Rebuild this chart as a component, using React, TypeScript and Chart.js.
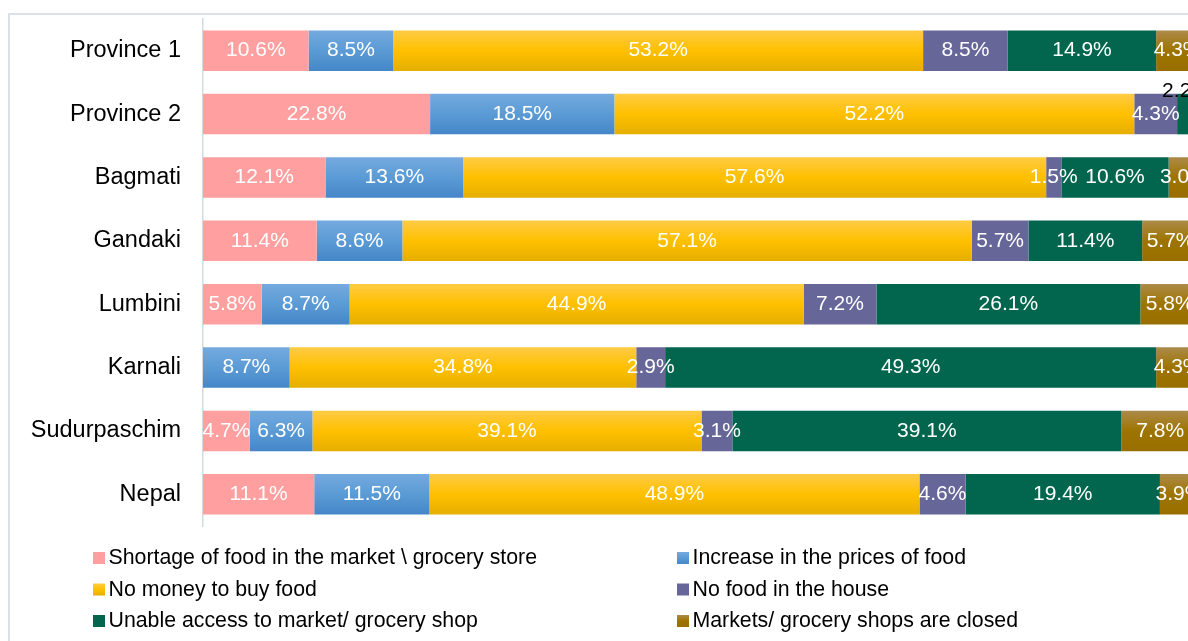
import React, { useEffect, useRef } from "react";
import { Chart, registerables } from "chart.js";

Chart.register(...registerables);

const categories = ["Province 1", "Province 2", "Bagmati", "Gandaki", "Lumbini", "Karnali", "Sudurpaschim", "Nepal"];

const shortage = [10.6, 22.8, 12.1, 11.4, 5.8, 0, 4.7, 11.1];
const priceIncrease = [8.5, 18.5, 13.6, 8.6, 8.7, 8.7, 6.3, 11.5];
const noMoney = [53.2, 52.2, 57.6, 57.1, 44.9, 34.8, 39.1, 48.9];
const noFood = [8.5, 4.3, 1.5, 5.7, 7.2, 2.9, 3.1, 4.6];
const unableAccess = [14.9, 2.2, 10.6, 11.4, 26.1, 49.3, 39.1, 19.4];
const marketsClosed = [4.3, 0, 3.0, 5.7, 5.8, 4.3, 7.8, 3.9];

const seriesLabels = [
  "Shortage of food in the market \\ grocery store",
  "Increase in the prices of food",
  "No money to buy food",
  "No food in the house",
  "Unable access to market/ grocery shop",
  "Markets/ grocery shops are closed",
];

const seriesValues = [shortage, priceIncrease, noMoney, noFood, unableAccess, marketsClosed];

const seriesColors: string[][] = [
  ["#FF9F9F"],
  ["#74AADF", "#5B9BD5", "#4486C8"],
  ["#FFCB45", "#FFC000", "#E5AF00"],
  ["#666699"],
  ["#02664F"],
  ["#AC8A4A", "#9E7400", "#986E00"],
];

const FONT = "'Liberation Sans', Arial, Helvetica, sans-serif";
const BAR_PCT = 0.64;

// 100% stacked: each row normalised to its total, as the chart type does
const rowTotals = categories.map((_, i) => seriesValues.reduce((s, arr) => s + arr[i], 0));

function gradientFill(stops: string[]) {
  return (ctx: any) => {
    if (stops.length === 1) return stops[0];
    const chart = ctx.chart;
    const y = chart.scales && chart.scales.y;
    if (!y || ctx.dataIndex === undefined || !chart.chartArea) return stops[1];
    const c = y.getPixelForValue(ctx.dataIndex);
    const half = ((y.height / categories.length) * BAR_PCT) / 2;
    const g = chart.ctx.createLinearGradient(0, c - half, 0, c + half);
    stops.forEach((s, i) => g.addColorStop(i / (stops.length - 1), s));
    return g;
  };
}

function isLastVisible(di: number, i: number) {
  for (let k = di + 1; k < seriesValues.length; k++) {
    if (seriesValues[k][i] > 0) return false;
  }
  return true;
}

const labelPlugin = {
  id: "segLabels",
  afterDatasetsDraw(chart: any) {
    const ctx = chart.ctx;
    ctx.save();
    ctx.font = `21px ${FONT}`;
    ctx.textAlign = "center";
    ctx.textBaseline = "middle";
    chart.data.datasets.forEach((_: any, di: number) => {
      const meta = chart.getDatasetMeta(di);
      meta.data.forEach((bar: any, i: number) => {
        const v = seriesValues[di][i];
        if (!v) return;
        const p = bar.getProps(["x", "y", "base", "height"], true);
        const w = p.x - p.base;
        const text = v.toFixed(1) + "%";
        const cx = (p.x + p.base) / 2;
        if (w < 25 && isLastVisible(di, i)) {
          ctx.fillStyle = "#000000";
          ctx.textBaseline = "alphabetic";
          ctx.fillText(text, cx - 2, p.y - p.height / 2 + 3);
          ctx.textBaseline = "middle";
        } else {
          ctx.fillStyle = "#FFFFFF";
          ctx.fillText(text, cx, p.y);
        }
      });
    });
    ctx.restore();
  },
};

const legendPlugin = {
  id: "gridLegend",
  afterDraw(chart: any) {
    const ctx = chart.ctx;
    ctx.save();
    ctx.font = `21.3px ${FONT}`;
    ctx.textBaseline = "middle";
    ctx.textAlign = "left";
    const colX = [93, 677];
    const rowY = [558, 589.5, 621];
    seriesLabels.forEach((label, i) => {
      const col = i % 2;
      const row = Math.floor(i / 2);
      const x = colX[col];
      const y = rowY[row];
      const stops = seriesColors[i];
      let fill: any = stops[0];
      if (stops.length > 1) {
        const g = ctx.createLinearGradient(0, y - 6, 0, y + 6);
        stops.forEach((s, k) => g.addColorStop(k / (stops.length - 1), s));
        fill = g;
      }
      ctx.fillStyle = fill;
      ctx.fillRect(x, y - 6, 12, 12);
      ctx.fillStyle = "#000000";
      ctx.fillText(label, x + 15.5, y + 0.5);
    });
    ctx.restore();
  },
};

export default function App() {
  const canvasRef = useRef<HTMLCanvasElement | null>(null);

  useEffect(() => {
    const canvas = canvasRef.current;
    if (!canvas) return;
    const chart = new Chart(canvas, {
      type: "bar",
      data: {
        labels: categories,
        datasets: seriesValues.map((arr, di) => ({
          label: seriesLabels[di],
          data: arr.map((v, i) => (v / rowTotals[i]) * 100),
          backgroundColor: gradientFill(seriesColors[di]) as any,
          borderWidth: 0,
          categoryPercentage: 1,
          barPercentage: BAR_PCT,
        })),
      },
      options: {
        indexAxis: "y",
        animation: false,
        responsive: false,
        devicePixelRatio: 1,
        layout: { padding: { top: 19, bottom: 115, left: 0, right: 0 } },
        plugins: {
          legend: { display: false },
          tooltip: { enabled: false },
          title: { display: false },
        },
        scales: {
          x: {
            stacked: true,
            min: 0,
            max: 100,
            display: false,
          },
          y: {
            stacked: true,
            afterFit: (scale: any) => {
              scale.width = 203;
              scale.paddingTop = 0;
              scale.paddingBottom = 0;
            },
            grid: { drawOnChartArea: false, drawTicks: false },
            border: { display: true, color: "#D5DAE1", width: 1.5 },
            ticks: {
              padding: 22,
              color: "#000000",
              font: { family: FONT, size: 23.5 },
            },
          },
        },
      },
      plugins: [labelPlugin, legendPlugin],
    });
    return () => chart.destroy();
  }, []);

  return (
    <div
      style={{
        position: "fixed",
        left: 0,
        top: 0,
        width: 1188,
        height: 641,
        overflow: "hidden",
        background: "#FFFFFF",
      }}
    >
      <div
        style={{
          position: "absolute",
          left: 8,
          top: 13,
          width: 1300,
          height: 800,
          borderLeft: "2px solid #DCE1E8",
          borderTop: "2px solid #DCE1E8",
        }}
      />
      <canvas
        ref={canvasRef}
        width={1199}
        height={641}
        style={{ position: "absolute", left: 0, top: 0, width: 1199, height: 641 }}
      />
    </div>
  );
}
